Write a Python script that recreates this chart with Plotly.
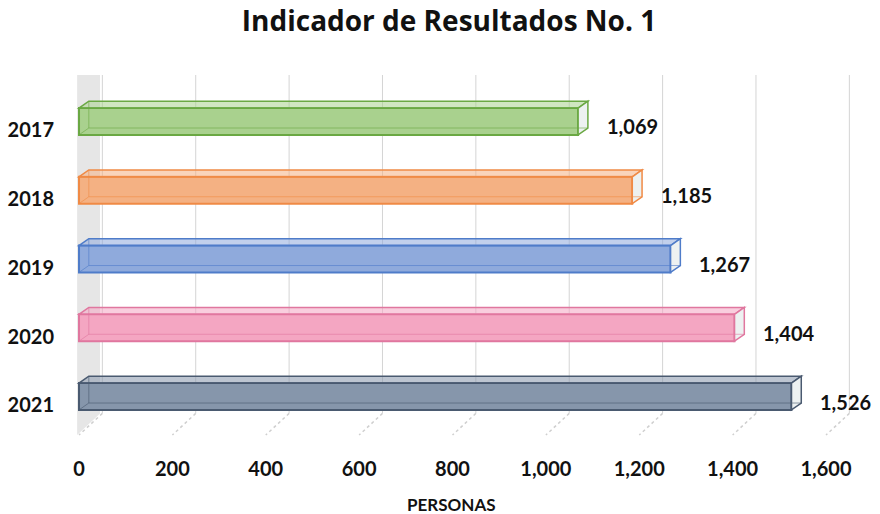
import plotly.graph_objects as go

years = ["2017", "2018", "2019", "2020", "2021"]
personas = [1069, 1185, 1267, 1404, 1526]
fill_colors = ["#a9d18e", "#f4b183", "#8faadc", "#f4a6c2", "#8696ab"]
line_colors = ["#6aa843", "#f08a45", "#4f7cc9", "#e0779f", "#4a5a70"]
x_ticks = [0, 200, 400, 600, 800, 1000, 1200, 1400, 1600]

BAR_W = 0.39
DX = 21.0    # bar depth offset (x data units)
DY = 0.10    # bar depth offset (category units)
GX = 50.0    # back-wall offset of gridlines (x data units)

fig = go.Figure()
pos = list(range(len(years)))

def hex_rgba(h, a):
    h = h.lstrip("#")
    return "rgba(%d,%d,%d,%.2f)" % (int(h[0:2], 16), int(h[2:4], 16), int(h[4:6], 16), a)

shapes = []
# left wall
shapes.append(dict(type="path", xref="x", yref="paper",
                   path=f"M -4,1 L {GX-5},1 L {GX-5},0.06 L -4,0.0 Z",
                   fillcolor="#e6e6e6", line=dict(width=0), layer="below"))
# back gridlines + floor perspective lines
for t in x_ticks:
    shapes.append(dict(type="line", xref="x", yref="paper", x0=t + GX, x1=t + GX, y0=0.06, y1=1,
                       line=dict(color="#d4d4d4", width=1), layer="below"))
    shapes.append(dict(type="line", xref="x", yref="paper", x0=t + GX, x1=t, y0=0.06, y1=0.0,
                       line=dict(color="#cfcfcf", width=1.5, dash="dot"), layer="below"))

for i, (v, fc, lc) in enumerate(zip(personas, fill_colors, line_colors)):
    fig.add_trace(go.Bar(
        x=[v], y=[i], base=0, orientation="h", width=BAR_W,
        marker=dict(color=fc, line=dict(color=lc, width=2)),
        showlegend=False, hoverinfo="skip"))
    yt = i - BAR_W / 2
    yb = i + BAR_W / 2
    shapes.append(dict(type="path", xref="x", yref="y",
                       path=f"M 0,{yt} L {v},{yt} L {v+DX},{yt-DY} L {DX},{yt-DY} Z",
                       fillcolor=hex_rgba(fc, 0.55), line=dict(color=lc, width=1.5)))
    shapes.append(dict(type="path", xref="x", yref="y",
                       path=f"M {v},{yt} L {v+DX},{yt-DY} L {v+DX},{yb-DY} L {v},{yb} Z",
                       fillcolor="rgba(235,240,240,0.9)", line=dict(color=lc, width=1.5)))
    shapes.append(dict(type="path", xref="x", yref="y",
                       path=f"M {DX},{yb-DY} L {v+DX},{yb-DY}",
                       line=dict(color=hex_rgba(lc, 0.6), width=1)))
    shapes.append(dict(type="path", xref="x", yref="y",
                       path=f"M {DX},{yt-DY} L {DX},{yb-DY} L 0,{yb}",
                       line=dict(color=hex_rgba(lc, 0.6), width=1)))

annotations = []
for i, v in enumerate(personas):
    annotations.append(dict(x=v + DX, y=i, xref="x", yref="y", text=f"{v:,}",
                            showarrow=False, xanchor="left", yanchor="middle",
                            xshift=17, yshift=-5,
                            font=dict(family="Lato", size=20, color="#111111", weight="bold")))
annotations.append(dict(x=0.4835, y=-0.194, xref="paper", yref="paper", text="<b>PERSONAS</b>",
                        showarrow=False, xanchor="center", yanchor="middle",
                        font=dict(family="Lato", size=17, color="#111111")))

fig.update_layout(
    width=880, height=514,
    margin=dict(l=70, r=20, t=75, b=79, autoexpand=False),
    paper_bgcolor="white", plot_bgcolor="white",
    title=dict(text="<b>Indicador de Resultados No. 1</b>", x=449 / 880, xanchor="center",
               y=1 - 21 / 514, yanchor="middle",
               font=dict(family="Open Sans", size=28, color="#111111")),
    xaxis=dict(range=[-19.3, 1672.8], tickvals=x_ticks, ticktext=[f"{t:,}" for t in x_ticks],
               showgrid=False, zeroline=False, showline=False, ticks="",
               ticklabelstandoff=20, automargin=False,
               tickfont=dict(family="Lato", size=20, color="#111111", weight="bold")),
    yaxis=dict(range=[4.56, -0.676], tickvals=[p + 0.13 for p in pos], ticktext=years,
               showgrid=False, zeroline=False, showline=False, ticks="",
               ticklabelstandoff=15, automargin=False,
               tickfont=dict(family="Lato", size=20, color="#111111", weight="bold")),
    shapes=shapes,
    annotations=annotations,
)

fig.write_html("out.html", config={"displayModeBar": False},
               post_script="document.body.style.margin='0';document.body.style.overflow='hidden';")
